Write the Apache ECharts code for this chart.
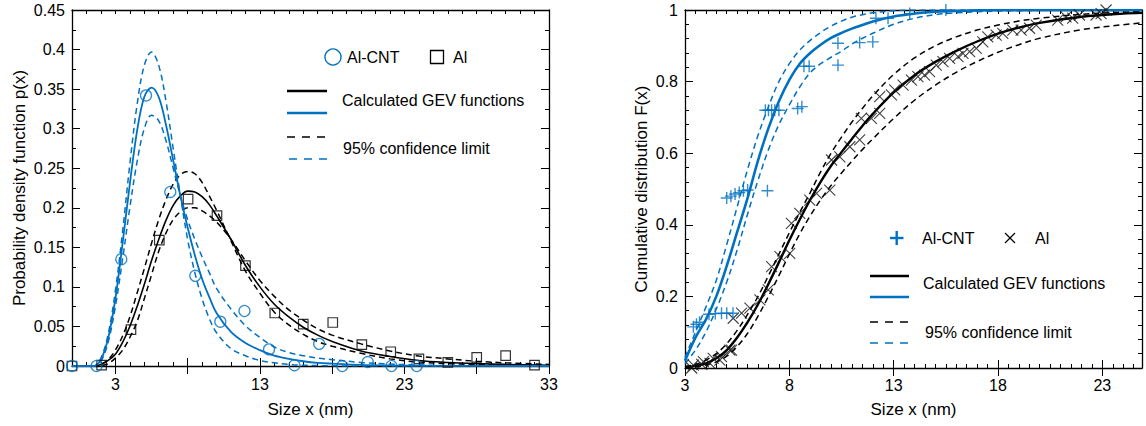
<!DOCTYPE html>
<html><head><meta charset="utf-8">
<script src="https://cdn.jsdelivr.net/npm/echarts@6/dist/echarts.min.js"></script>
<style>html,body{margin:0;padding:0;background:#fff}#c{width:1146px;height:426px}</style>
</head><body><div id="c"></div>
<script>
// ---------- Left panel: probability density ----------
const pdfX       = [0, 1, 1.5, 2, 2.5, 3, 3.5, 4, 4.5, 5, 5.5, 6, 6.5, 7, 7.5, 8, 8.5, 9, 9.5, 10, 11, 12, 13, 14, 15, 16, 17, 18, 20, 22, 24, 26, 28, 30, 33];
const cntPdf     = [0, 0, 0, 0.008, 0.035, 0.085, 0.155, 0.23, 0.297, 0.34, 0.352, 0.34, 0.305, 0.26, 0.215, 0.175, 0.14, 0.11, 0.087, 0.067, 0.043, 0.029, 0.02, 0.013, 0.009, 0.006, 0.004, 0.003, 0.0015, 0.0008, 0.0004, 0.0002, 0.0001, 0, 0];
const cntPdfHi   = [0, 0, 0, 0.01, 0.04, 0.095, 0.17, 0.255, 0.33, 0.38, 0.397, 0.38, 0.335, 0.275, 0.215, 0.16, 0.118, 0.085, 0.06, 0.042, 0.022, 0.013, 0.007, 0.004, 0.002, 0.001, 0.0005, 0.0002, 0, 0, 0, 0, 0, 0, 0];
const cntPdfLo   = [0, 0, 0, 0.006, 0.03, 0.075, 0.135, 0.2, 0.258, 0.3, 0.317, 0.31, 0.285, 0.25, 0.215, 0.185, 0.16, 0.138, 0.118, 0.098, 0.072, 0.051, 0.036, 0.024, 0.017, 0.013, 0.01, 0.008, 0.0045, 0.0025, 0.0012, 0.0006, 0.0003, 0.0001, 0];
const alPdf      = [0, 0, 0, 0.002, 0.007, 0.015, 0.03, 0.05, 0.075, 0.103, 0.133, 0.16, 0.184, 0.203, 0.215, 0.221, 0.22, 0.214, 0.204, 0.19, 0.16, 0.127, 0.1, 0.078, 0.062, 0.049, 0.039, 0.031, 0.019, 0.012, 0.007, 0.0045, 0.003, 0.002, 0.001];
const alPdfHi    = [0, 0, 0, 0.002, 0.008, 0.02, 0.038, 0.062, 0.092, 0.123, 0.155, 0.185, 0.21, 0.23, 0.242, 0.246, 0.243, 0.232, 0.215, 0.197, 0.158, 0.12, 0.092, 0.068, 0.052, 0.04, 0.031, 0.025, 0.016, 0.009, 0.005, 0.003, 0.002, 0.001, 0];
const alPdfLo    = [0, 0, 0, 0.0005, 0.003, 0.01, 0.02, 0.036, 0.056, 0.085, 0.115, 0.145, 0.168, 0.185, 0.195, 0.2, 0.2, 0.196, 0.19, 0.182, 0.16, 0.133, 0.108, 0.088, 0.071, 0.058, 0.047, 0.039, 0.028, 0.019, 0.0125, 0.009, 0.006, 0.004, 0.002];
const cntPdfPts  = [[0,0],[1.7,0],[3.41,0.135],[5.12,0.342],[6.8,0.22],[8.53,0.114],[10.26,0.056],[11.93,0.0695],[13.63,0.021],[15.39,0.001],[17.1,0.028],[18.7,0],[20.46,0.005],[22.1,0],[23.85,0]];
const alPdfPts   = [[0,0],[2.05,0.001],[4.08,0.046],[6.04,0.159],[8.03,0.211],[10.03,0.19],[12.0,0.127],[14.03,0.067],[16.0,0.053],[18.04,0.055],[20.05,0.027],[22.05,0.018],[24.0,0.009],[26.0,0.0046],[28.0,0.011],[30.0,0.013],[32.0,0.001]];
const leftXLabels = [3, 13, 23, 33];
const leftXMajor  = [3, 8, 13, 18, 23, 28, 33];

// ---------- Right panel: cumulative distribution ----------
const cdfX      = [3, 3.5, 4, 4.5, 5, 5.5, 6, 6.5, 7, 7.5, 8, 8.5, 9, 9.5, 10, 10.5, 11, 11.5, 12, 13, 14, 15, 16, 17, 18, 19, 20, 22, 24, 24.9];
const cntCdf    = [0.02, 0.085, 0.135, 0.2, 0.285, 0.38, 0.475, 0.58, 0.67, 0.745, 0.805, 0.85, 0.88, 0.903, 0.922, 0.936, 0.948, 0.958, 0.968, 0.982, 0.99, 0.995, 0.997, 0.999, 1, 1, 1, 1, 1, 1];
const cntCdfHi  = [0.03, 0.1, 0.17, 0.245, 0.345, 0.45, 0.555, 0.65, 0.73, 0.8, 0.85, 0.888, 0.915, 0.937, 0.955, 0.969, 0.98, 0.987, 0.992, 0.998, 1, 1, 1, 1, 1, 1, 1, 1, 1, 1];
const cntCdfLo  = [0.012, 0.05, 0.1, 0.165, 0.24, 0.33, 0.43, 0.525, 0.61, 0.68, 0.735, 0.785, 0.825, 0.85, 0.868, 0.885, 0.905, 0.921, 0.935, 0.96, 0.977, 0.987, 0.992, 0.995, 0.997, 0.998, 0.999, 1, 1, 1];
const alCdf     = [0.002, 0.006, 0.013, 0.027, 0.05, 0.085, 0.128, 0.178, 0.235, 0.295, 0.357, 0.415, 0.47, 0.52, 0.565, 0.603, 0.64, 0.676, 0.71, 0.77, 0.818, 0.855, 0.886, 0.912, 0.934, 0.951, 0.964, 0.981, 0.99, 0.992];
const alCdfHi   = [0.004, 0.01, 0.022, 0.04, 0.068, 0.105, 0.15, 0.2, 0.258, 0.318, 0.378, 0.435, 0.49, 0.548, 0.6, 0.645, 0.687, 0.725, 0.76, 0.82, 0.866, 0.9, 0.925, 0.944, 0.958, 0.969, 0.977, 0.988, 0.994, 0.996];
const alCdfLo   = [0.001, 0.003, 0.008, 0.017, 0.033, 0.06, 0.097, 0.145, 0.2, 0.258, 0.318, 0.375, 0.425, 0.47, 0.51, 0.545, 0.578, 0.61, 0.64, 0.697, 0.748, 0.79, 0.826, 0.856, 0.882, 0.903, 0.921, 0.945, 0.959, 0.964];
const cntCdfPts = [[3.4,0.115],[3.55,0.122],[3.7,0.128],[4.15,0.15],[4.45,0.152],[4.75,0.153],[5.0,0.153],[5.3,0.153],[5.0,0.475],[5.2,0.48],[5.4,0.486],[5.6,0.49],[5.8,0.495],[6.0,0.497],[6.95,0.495],[6.85,0.72],[7.0,0.72],[7.15,0.72],[7.3,0.72],[7.5,0.72],[8.4,0.725],[8.6,0.73],[8.7,0.843],[8.95,0.843],[10.33,0.846],[10.33,0.907],[11.37,0.909],[12.0,0.911],[12.15,0.977],[12.73,0.977],[13.77,0.99],[15.5,1.0]];
const alCdfPts  = [[3.32,0.0],[3.4,0.008],[3.8,0.01],[3.88,0.018],[4.2,0.013],[4.35,0.027],[4.67,0.022],[4.75,0.032],[5.15,0.05],[5.23,0.05],[5.31,0.139],[5.71,0.153],[6.11,0.167],[6.59,0.19],[6.99,0.218],[7.15,0.283],[7.55,0.311],[8.02,0.32],[8.1,0.404],[8.5,0.432],[8.98,0.469],[9.3,0.488],[9.94,0.497],[10.02,0.581],[10.42,0.59],[10.9,0.618],[11.37,0.637],[11.45,0.697],[11.93,0.697],[12.33,0.711],[12.33,0.758],[12.89,0.763],[13.05,0.777],[13.45,0.79],[13.85,0.804],[14.16,0.814],[14.48,0.818],[14.72,0.828],[15.04,0.846],[15.36,0.856],[15.68,0.865],[16.08,0.87],[16.32,0.879],[16.64,0.884],[16.96,0.893],[17.27,0.911],[17.51,0.925],[17.91,0.93],[18.23,0.935],[18.71,0.944],[19.11,0.944],[19.51,0.949],[19.83,0.958],[20.86,0.972],[21.26,0.981],[21.58,0.977],[21.9,0.986],[22.7,0.986],[22.94,0.99],[23.18,1.0]];
const rightXLabels = [3, 8, 13, 18, 23];
const rightXMajor  = [3, 8, 13, 18, 23];

// ---------- Chart ----------
const FONT = 'Liberation Sans, Arial, sans-serif';
const BLUE = '#0070C0';
const BLACK = '#000000';
const zip = (xs, ys) => xs.map((x, i) => [x, ys[i]]);

function xAxisPair(grid, min, max, interval, labels, major, name, nameGap, labelMargin) {
  const base = { gridIndex: grid, type: 'value', min, max, splitLine: { show: false } };
  const axLine = { show: true, onZero: false, lineStyle: { color: BLACK, width: 1.3 } };
  return [
    Object.assign({}, base, {
      position: 'bottom', interval, axisLine: axLine,
      axisTick: { show: true, inside: true, length: 4, lineStyle: { color: BLACK, width: 1 } },
      axisLabel: { show: true, margin: labelMargin, color: BLACK, fontSize: 16, fontFamily: FONT,
        formatter: v => labels.includes(v) ? String(v) : '' },
      name, nameLocation: 'middle', nameGap,
      nameTextStyle: { color: BLACK, fontSize: 17, fontFamily: FONT }
    }),
    Object.assign({}, base, {
      position: 'bottom', axisLine: { show: false },
      axisTick: { show: true, inside: true, length: 8, customValues: major, lineStyle: { color: BLACK, width: 1 } },
      axisLabel: { show: false }
    }),
    Object.assign({}, base, {
      position: 'top', interval, axisLine: axLine,
      axisTick: { show: true, inside: true, length: 4, lineStyle: { color: BLACK, width: 1 } },
      axisLabel: { show: false }
    }),
    Object.assign({}, base, {
      position: 'top', axisLine: { show: false },
      axisTick: { show: true, inside: true, length: 8, customValues: major, lineStyle: { color: BLACK, width: 1 } },
      axisLabel: { show: false }
    })
  ];
}

function yAxisPair(grid, max, interval, minorSplit, name, nameGap, decimals) {
  const base = {
    gridIndex: grid, type: 'value', min: 0, max, interval, splitLine: { show: false },
    axisLine: { show: true, onZero: false, lineStyle: { color: BLACK, width: 1.3 } },
    axisTick: { show: true, inside: true, length: 8, lineStyle: { color: BLACK, width: 1 } },
    minorTick: { show: true, splitNumber: minorSplit, length: 4, lineStyle: { color: BLACK, width: 1 } },
    minorSplitLine: { show: false }
  };
  return [
    Object.assign({}, base, {
      position: 'left',
      axisLabel: { show: true, margin: 7, color: BLACK, fontSize: 16, fontFamily: FONT,
        formatter: v => String(+v.toFixed(decimals)) },
      name, nameLocation: 'middle', nameGap,
      nameTextStyle: { color: BLACK, fontSize: 17, fontFamily: FONT }
    }),
    Object.assign({}, base, { position: 'right', axisLabel: { show: false } })
  ];
}

function curve(xi, yi, data, color, dashed, width) {
  return {
    type: 'line', xAxisIndex: xi, yAxisIndex: yi, data, smooth: 0.35, showSymbol: false,
    symbol: 'none', silent: true, animation: false,
    lineStyle: { color, width, type: dashed ? [6, 4] : 'solid' }
  };
}
function pts(xi, yi, data, symbol, size, color, bw) {
  return {
    type: 'scatter', xAxisIndex: xi, yAxisIndex: yi, data, symbol, symbolSize: size,
    symbolKeepAspect: true, clip: false, silent: true, animation: false, z: 5,
    itemStyle: { color: 'rgba(0,0,0,0)', borderColor: color, borderWidth: bw }
  };
}

const PLUS = 'path://M0,5L10,5M5,0L5,10';
const CROSS = 'path://M0,0L10,10M10,0L0,10';

function txt(x, y, t) {
  return { type: 'text', x, y, silent: true,
    style: { text: t, fill: BLACK, font: '16px ' + FONT, textAlign: 'left', textVerticalAlign: 'middle' } };
}
function seg(x1, y1, x2, y2, color, w, dash) {
  return { type: 'line', silent: true, shape: { x1, y1, x2, y2 },
    style: { stroke: color, lineWidth: w, lineDash: dash || null } };
}

const graphic = [
  // left legend
  { type: 'circle', silent: true, shape: { cx: 333, cy: 57, r: 8 }, style: { fill: 'none', stroke: BLUE, lineWidth: 1.4 } },
  txt(347, 57, 'Al-CNT'),
  { type: 'rect', silent: true, shape: { x: 430.5, y: 50.5, width: 13, height: 13 }, style: { fill: 'none', stroke: BLACK, lineWidth: 1.3 } },
  txt(453, 57, 'Al'),
  seg(287, 91, 327, 91, BLACK, 2.6),
  seg(287, 113, 327, 113, BLUE, 2.6),
  txt(342, 100, 'Calculated GEV functions'),
  seg(287, 137, 327, 137, BLACK, 1.6, [8, 7]),
  seg(289, 159, 329, 159, BLUE, 1.6, [8, 7]),
  txt(343, 148, '95% confidence limit'),
  // right legend
  seg(890, 238, 903.5, 238, BLUE, 2.4),
  seg(896.7, 231, 896.7, 245, BLUE, 2.4),
  txt(922, 238, 'Al-CNT'),
  seg(1005, 233, 1015, 243, BLACK, 1.2),
  seg(1015, 233, 1005, 243, BLACK, 1.2),
  txt(1035, 238, 'Al'),
  seg(870, 276, 909, 276, BLACK, 2.6),
  seg(870, 297, 909, 297, BLUE, 2.6),
  txt(923, 283, 'Calculated GEV functions'),
  seg(870, 322, 909, 322, BLACK, 1.6, [8, 7]),
  seg(870, 343, 909, 343, BLUE, 1.6, [8, 7]),
  txt(925, 332, '95% confidence limit')
];

const option = {
  backgroundColor: '#ffffff',
  animation: false,
  textStyle: { fontFamily: FONT },
  grid: [
    { left: 72, top: 10, width: 477, height: 356 },
    { left: 685, top: 10, width: 457, height: 358 }
  ],
  xAxis: [].concat(
    xAxisPair(0, 0, 33, 1, leftXLabels, leftXMajor, 'Size x (nm)', 35, 10),
    xAxisPair(1, 3, 24.9, 0.5, rightXLabels, rightXMajor, 'Size x (nm)', 33, 9)
  ),
  yAxis: [].concat(
    yAxisPair(0, 0.45, 0.05, 2, 'Probability density function p(x)', 44, 2),
    yAxisPair(1, 1, 0.2, 5, 'Cumulative distribution F(x)', 35, 1)
  ),
  graphic,
  series: [
    curve(0, 0, zip(pdfX, alPdfHi), BLACK, true, 1.5),
    curve(0, 0, zip(pdfX, alPdfLo), BLACK, true, 1.5),
    curve(0, 0, zip(pdfX, alPdf), BLACK, false, 1.6),
    curve(0, 0, zip(pdfX, cntPdfHi), BLUE, true, 1.5),
    curve(0, 0, zip(pdfX, cntPdfLo), BLUE, true, 1.5),
    curve(0, 0, zip(pdfX, cntPdf), BLUE, false, 1.8),
    pts(0, 0, alPdfPts, 'rect', 9.5, BLACK, 1.2),
    pts(0, 0, cntPdfPts, 'circle', 11, BLUE, 1.3),

    curve(4, 2, zip(cdfX, alCdfHi), BLACK, true, 1.5),
    curve(4, 2, zip(cdfX, alCdfLo), BLACK, true, 1.5),
    curve(4, 2, zip(cdfX, alCdf), BLACK, false, 2.4),
    curve(4, 2, zip(cdfX, cntCdfHi), BLUE, true, 1.5),
    curve(4, 2, zip(cdfX, cntCdfLo), BLUE, true, 1.5),
    curve(4, 2, zip(cdfX, cntCdf), BLUE, false, 2.6),
    pts(4, 2, alCdfPts, CROSS, 11, '#111111', 1.1),
    pts(4, 2, cntCdfPts, PLUS, 12, BLUE, 1.4)
  ]
};

const chart = echarts.init(document.getElementById('c'), null, { renderer: 'svg', width: 1146, height: 426 });
chart.setOption(option);
</script>
</body></html>
